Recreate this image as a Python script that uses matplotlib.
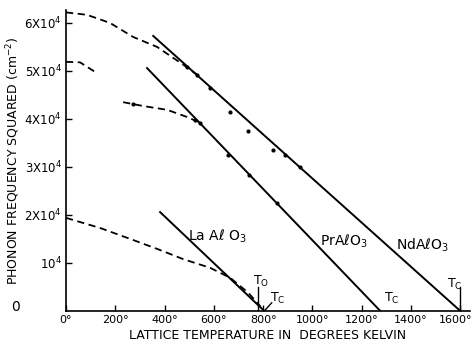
import matplotlib
matplotlib.use("Agg")
import matplotlib.pyplot as plt
from matplotlib.transforms import blended_transform_factory, ScaledTranslation

# ---- data (temperature in K, frequency squared in cm^-2) ----
nd_line_T = [354, 1601]
nd_line_v = [57300, 0]
pr_line_T = [329, 1276]
pr_line_v = [50600, 0]
la_line_T = [382, 805]
la_line_v = [20600, 0]

nd_dash_T = [0, 85, 179, 272, 370, 476, 533]
nd_dash_v = [62200, 61700, 60000, 57100, 55000, 51300, 49200]
pr_dash_T = [0, 57, 118]
pr_dash_v = [51900, 51800, 49800]
mid_dash_T = [232, 313, 411, 492, 545]
mid_dash_v = [43500, 42700, 41900, 40400, 39200]
la_dash_T = [0, 138, 272, 382, 476, 585, 667, 740, 790]
la_dash_v = [19400, 17300, 14800, 12700, 10800, 9000, 6900, 3800, 900]

nd_pts_T = [492, 533, 585, 667, 740, 841, 890, 951]
nd_pts_v = [50800, 49200, 46500, 41500, 37500, 33500, 32500, 30000]
pr_pts_T = [272, 524, 545, 659, 744, 858]
pr_pts_v = [43200, 39800, 39200, 32500, 28300, 22500]

x_ticks = [0, 200, 400, 600, 800, 1000, 1200, 1400, 1600]
x_labels = ["0°", "200°", "400°", "600°", "800°", "1000°", "1200°", "1400°", "1600°"]
y_ticks = [10000, 20000, 30000, 40000, 50000, 60000]
y_labels = ["10$^{4}$", "2X10$^{4}$", "3X10$^{4}$", "4X10$^{4}$", "5X10$^{4}$", "6X10$^{4}$"]

T0_La = 780
Tc_La = 805
Tc_Pr = 1276
Tc_Nd = 1601

# ---- figure ----
fig = plt.figure(figsize=(4.74, 3.44), dpi=100)
ax = fig.add_axes([66 / 474, 33 / 344, 404 / 474, 301 / 344])
ax.set_xlim(0, 1640)
ax.set_ylim(0, 62700)
for s in ("top", "right"):
    ax.spines[s].set_visible(False)
for s in ("left", "bottom"):
    ax.spines[s].set_linewidth(1.2)

k = "black"
ax.plot(nd_line_T, nd_line_v, color=k, lw=1.4)
ax.plot(pr_line_T, pr_line_v, color=k, lw=1.4)
ax.plot(la_line_T, la_line_v, color=k, lw=1.4)
dash = dict(color=k, lw=1.3, ls=(0, (4, 2.5)))
ax.plot(nd_dash_T, nd_dash_v, **dash)
ax.plot(pr_dash_T, pr_dash_v, **dash)
ax.plot(mid_dash_T, mid_dash_v, **dash)
ax.plot(la_dash_T, la_dash_v, **dash)

ax.plot(nd_pts_T, nd_pts_v, ls="none", marker="o", ms=2, color=k)
ax.plot(pr_pts_T, pr_pts_v, ls="none", marker="o", ms=2, color=k)

ax.set_xticks(x_ticks)
ax.set_xticklabels(x_labels, fontsize=8)
ax.set_yticks(y_ticks)
ax.set_yticklabels(y_labels, fontsize=8.5)
ax.tick_params(direction="in", length=4, width=1, pad=3)
last = ax.get_xticklabels()[-1]
last.set_transform(last.get_transform() + ScaledTranslation(-5 / 100, 0, fig.dpi_scale_trans))

tr = blended_transform_factory(ax.transAxes, ax.transData)
ax.text(-0.125, 900, "0", transform=tr, fontsize=10, ha="center", va="center")

ax.set_xlabel("LATTICE TEMPERATURE IN  DEGREES KELVIN", fontsize=9, labelpad=3)
ax.set_ylabel("PHONON FREQUENCY SQUARED (cm$^{-2}$)", fontsize=9)
ax.yaxis.set_label_coords(-0.108, 0.5)

# annotations
ax.text(495, 15500, "La Aℓ O$_3$", fontsize=10, ha="left", va="center")
ax.text(1030, 14600, "PrAℓO$_3$", fontsize=10, ha="left", va="center")
ax.text(1340, 13700, "NdAℓO$_3$", fontsize=10, ha="left", va="center")

ax.plot([T0_La, T0_La], [0, 5000], color=k, lw=1)
ax.text(T0_La + 10, 6200, "T$_\\mathrm{O}$", fontsize=9, ha="center", va="center")
ax.plot([Tc_La, Tc_La + 30], [0, 1700], color=k, lw=1)
ax.text(Tc_La + 55, 2600, "T$_\\mathrm{C}$", fontsize=9, ha="center", va="center")
ax.text(Tc_Pr + 45, 2600, "T$_\\mathrm{C}$", fontsize=9, ha="center", va="center")
ax.plot([Tc_Nd, Tc_Nd], [0, 5000], color=k, lw=1)
ax.text(Tc_Nd - 25, 5600, "T$_\\mathrm{C}$", fontsize=9, ha="center", va="center")

fig.savefig("out.png", dpi=100)
